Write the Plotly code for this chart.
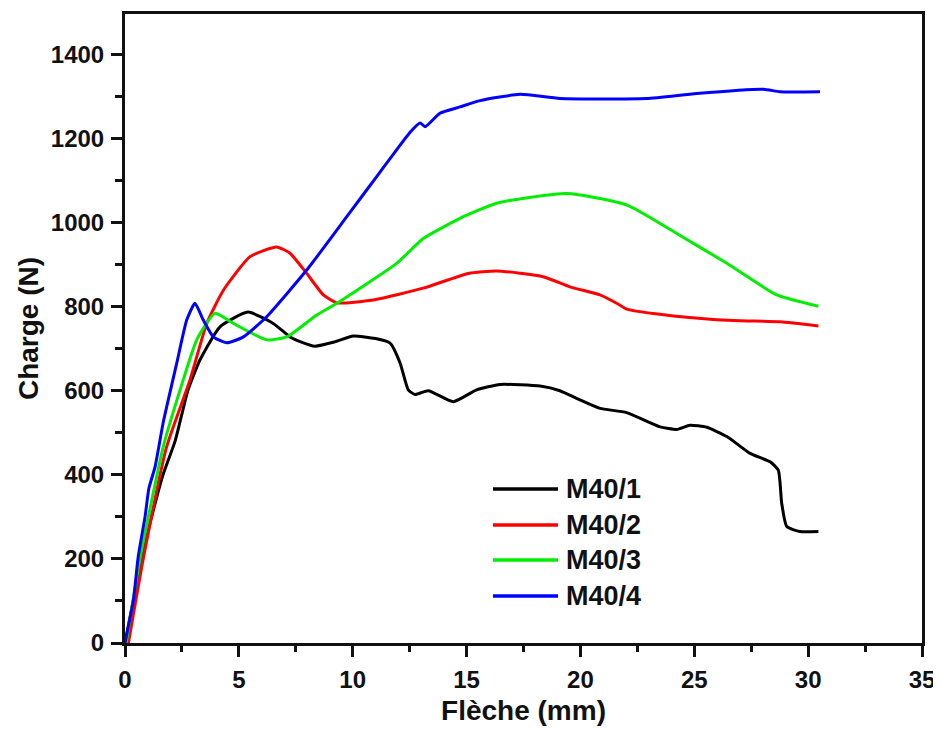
import plotly.graph_objects as go

names = ["M40/1", "M40/2", "M40/3", "M40/4"]
colors = ["#000000", "#ff0000", "#00ee00", "#0000ff"]

x1 = [0, 0.73, 1.17, 1.67, 2.2, 2.77, 3.29, 4.17, 5.4, 6.51, 7.25, 7.69, 8.34, 9.2, 10.03, 11.0, 11.64, 12.08, 12.44, 12.74,
      13.32, 14.42, 15.44, 16.47, 18.23, 19.1, 19.91, 20.86, 22.03, 23.5, 24.23, 24.81, 25.55, 26.43, 27.45, 28.33,
      28.69, 28.84, 29.06, 29.64, 30.45]
y1 = [0, 200, 300, 400, 480, 602, 673, 752, 787, 760, 728, 717, 706, 716, 730, 724, 713, 666, 602, 591,
      600, 574, 602, 615, 611, 600, 580, 558, 548, 514, 508, 518, 513, 491, 451, 431,
      411, 332, 277, 265, 265]

x2 = [0.15, 0.8, 1.83, 2.85, 3.59, 4.32, 5.49, 6.66, 7.25, 7.98, 8.71, 9.3, 10.9, 13.1, 15.08, 16.32, 18.37, 19.54,
      20.86, 21.59, 22.03, 24.08, 26.71, 28.77, 30.45]
y2 = [0, 200, 467, 625, 760, 839, 919, 942, 927, 879, 828, 809, 816, 844, 879, 885, 871, 847,
      828, 808, 794, 778, 767, 764, 754]

x3 = [0.05, 0.66, 1.68, 2.42, 3.15, 3.95, 4.76, 6.22, 7.1, 8.42, 9.3, 11.93, 13.1, 14.71, 16.32, 19.4, 22.03,
      24.23, 26.43, 28.62, 30.45]
y3 = [0, 200, 467, 602, 721, 784, 760, 721, 728, 780, 808, 903, 962, 1010, 1046, 1069, 1042,
      974, 903, 828, 801]

x4 = [0, 0.37, 0.58, 0.88, 1.05, 1.32, 1.68, 2.27, 2.71, 3.07, 3.44, 3.88, 4.47, 5.2, 6.22, 7.98, 9.74, 11.2,
      12.52, 12.96, 13.18, 13.83, 14.71, 15.59, 17.35, 19.1, 22.9, 25.1, 28.03, 28.77, 30.52]
y4 = [0, 102, 205, 300, 368, 419, 525, 665, 768, 808, 768, 728, 714, 728, 776, 887, 1014, 1120,
      1215, 1237, 1228, 1260, 1275, 1290, 1305, 1295, 1295, 1307, 1317, 1311, 1311]

xs = [x1, x2, x3, x4]
ys = [y1, y2, y3, y4]

x_ticks = [0, 5, 10, 15, 20, 25, 30, 35]
y_ticks = [0, 200, 400, 600, 800, 1000, 1200, 1400]

FONT = "Liberation Sans, Arial, sans-serif"
INK = "#111111"

fig = go.Figure()
for n, c, xx, yy in zip(names, colors, xs, ys):
    fig.add_trace(go.Scatter(x=xx, y=yy, mode="lines", name=n,
                             line=dict(color=c, width=3, shape="spline", smoothing=0.5),
                             showlegend=False))

# custom legend (paper coordinates)
rows = [0.2448, 0.1876, 0.132, 0.0747]
for n, c, ry in zip(names, colors, rows):
    fig.add_shape(type="line", xref="paper", yref="paper", x0=0.4617, x1=0.5433, y0=ry, y1=ry,
                  line=dict(color=c, width=3.5))
    fig.add_annotation(xref="paper", yref="paper", x=0.551, y=ry, text=n, showarrow=False,
                       xanchor="left", yanchor="middle",
                       font=dict(family=FONT, size=27, color=INK, weight="bold"))

axis_common = dict(showline=True, linewidth=3, linecolor=INK, mirror=True,
                   ticks="outside", tickwidth=2.5, tickcolor=INK, ticklen=11,
                   showgrid=False, zeroline=False, automargin=False,
                   tickfont=dict(family=FONT, size=24, color=INK, weight="bold"))

fig.update_xaxes(range=[0, 35], tickvals=x_ticks, ticktext=[str(v) for v in x_ticks],
                 minor=dict(ticks="outside", dtick=2.5, ticklen=6, tickwidth=2.5, tickcolor=INK),
                 ticklabelstandoff=2,
                 title=dict(text="Flèche (mm)", standoff=9,
                            font=dict(family=FONT, size=28, color=INK, weight="bold")),
                 **axis_common)
fig.update_yaxes(range=[0, 1496], tickvals=y_ticks, ticktext=[str(v) for v in y_ticks],
                 minor=dict(ticks="outside", dtick=100, ticklen=7, tickwidth=2.5, tickcolor=INK),
                 ticklabelstandoff=2,
                 title=dict(text="Charge (N)", standoff=5,
                            font=dict(family=FONT, size=28, color=INK, weight="bold")),
                 **axis_common)

# page body adds an 8px offset, so the figure is sized to fit the window
fig.update_layout(width=933, height=721, margin=dict(l=117, r=19, t=6, b=86),
                  paper_bgcolor="white", plot_bgcolor="white", showlegend=False)

fig.write_html("out.html")
